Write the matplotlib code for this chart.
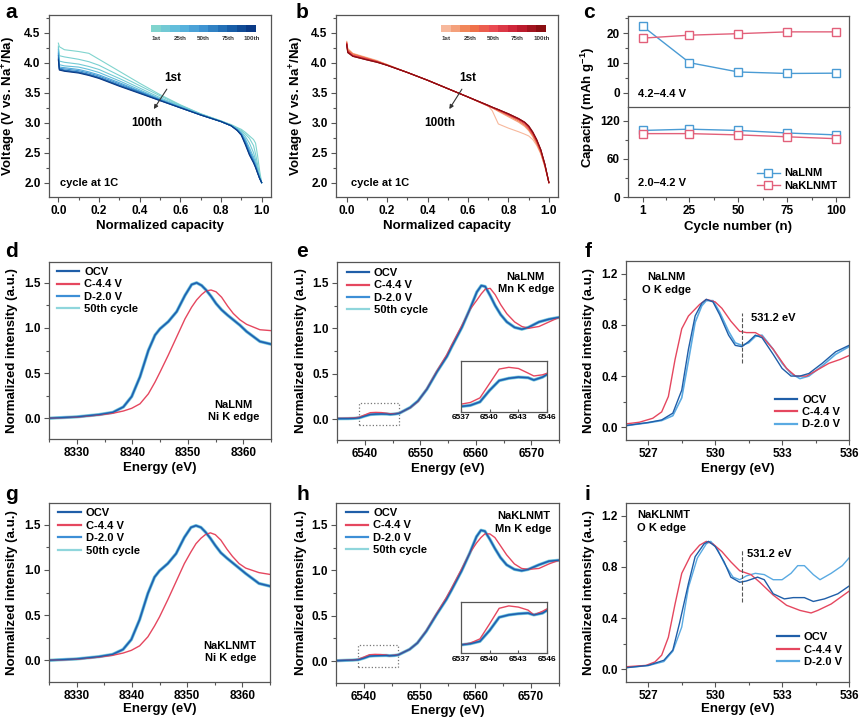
import numpy as np
import matplotlib
matplotlib.use("Agg")
import matplotlib.pyplot as plt
from matplotlib.colors import LinearSegmentedColormap
from matplotlib.patches import Rectangle
from matplotlib.lines import Line2D
from matplotlib.ticker import MultipleLocator, FormatStrFormatter

plt.rcParams['font.family'] = ['Liberation Sans', 'DejaVu Sans']
plt.rcParams['font.weight'] = 'bold'
plt.rcParams['axes.labelweight'] = 'bold'
plt.rcParams['mathtext.fontset'] = 'custom'
plt.rcParams['mathtext.rm'] = 'Liberation Sans:bold'
plt.rcParams['mathtext.bf'] = 'Liberation Sans:bold'
plt.rcParams['mathtext.default'] = 'bf'

# ---------------- data ----------------
# (a) NaLNM charge/discharge curves, selected cycles
cap_a = [0, .005, .03, .1, .15, .2, .3, .4, .5, .6, .7, .8, .85, .88, .9, .92, .94, .96, .97, .98, .99, 1.0]
cycles_a = [1, 5, 10, 20, 35, 50, 65, 80, 100]
volt_a_c1 = [4.33, 4.27, 4.22, 4.19, 4.16, 4.06, 3.86, 3.66, 3.47, 3.30, 3.15, 3.03, 2.97, 2.92, 2.89, 2.84, 2.78, 2.72, 2.66, 2.45, 2.20, 2.00]
volt_a_c5 = [4.28, 4.12, 4.10, 4.06, 4.02, 3.96, 3.79, 3.62, 3.45, 3.29, 3.15, 3.03, 2.96, 2.91, 2.87, 2.81, 2.74, 2.62, 2.48, 2.30, 2.13, 2.00]
volt_a_c10 = [4.25, 4.03, 4.01, 3.98, 3.94, 3.89, 3.74, 3.58, 3.42, 3.28, 3.14, 3.03, 2.96, 2.90, 2.85, 2.77, 2.66, 2.50, 2.38, 2.24, 2.10, 2.00]
volt_a_c20 = [4.22, 3.97, 3.95, 3.93, 3.89, 3.84, 3.70, 3.55, 3.40, 3.27, 3.14, 3.02, 2.95, 2.89, 2.83, 2.73, 2.58, 2.43, 2.33, 2.21, 2.09, 2.00]
volt_a_c35 = [4.18, 3.93, 3.92, 3.89, 3.85, 3.80, 3.67, 3.53, 3.39, 3.26, 3.14, 3.02, 2.95, 2.89, 2.82, 2.70, 2.54, 2.39, 2.30, 2.19, 2.08, 2.00]
volt_a_c50 = [4.15, 3.91, 3.90, 3.87, 3.83, 3.78, 3.65, 3.52, 3.38, 3.26, 3.13, 3.02, 2.95, 2.88, 2.81, 2.68, 2.51, 2.37, 2.28, 2.18, 2.08, 2.00]
volt_a_c65 = [4.12, 3.90, 3.88, 3.85, 3.81, 3.76, 3.63, 3.51, 3.38, 3.25, 3.13, 3.02, 2.95, 2.88, 2.80, 2.66, 2.49, 2.35, 2.27, 2.17, 2.07, 2.00]
volt_a_c80 = [4.08, 3.89, 3.87, 3.84, 3.80, 3.75, 3.62, 3.50, 3.37, 3.25, 3.13, 3.02, 2.95, 2.87, 2.80, 2.65, 2.47, 2.34, 2.26, 2.16, 2.07, 2.00]
volt_a_c100 = [4.05, 3.88, 3.86, 3.83, 3.79, 3.74, 3.61, 3.49, 3.37, 3.25, 3.13, 3.02, 2.95, 2.87, 2.79, 2.63, 2.46, 2.33, 2.25, 2.16, 2.07, 2.00]
volts_a = [volt_a_c1, volt_a_c5, volt_a_c10, volt_a_c20, volt_a_c35, volt_a_c50, volt_a_c65, volt_a_c80, volt_a_c100]

# (b) NaKLNMT charge/discharge curves
cap_b = [0, .005, .03, .1, .15, .2, .3, .4, .5, .6, .7, .72, .75, .8, .85, .88, .9, .92, .94, .96, .98, 1.0]
cycles_b = [1, 10, 25, 50, 75, 90, 100]
volt_b_c1 = [4.36, 4.24, 4.16, 4.09, 4.04, 3.97, 3.84, 3.71, 3.57, 3.43, 3.28, 3.20, 2.98, 2.91, 2.85, 2.81, 2.78, 2.72, 2.62, 2.48, 2.27, 2.00]
volt_b_c10 = [4.35, 4.23, 4.15, 4.08, 4.03, 3.97, 3.84, 3.71, 3.57, 3.43, 3.28, 3.25, 3.19, 3.10, 3.01, 2.94, 2.87, 2.77, 2.64, 2.49, 2.27, 2.00]
volt_b_c25 = [4.34, 4.22, 4.15, 4.08, 4.03, 3.97, 3.84, 3.71, 3.57, 3.43, 3.28, 3.25, 3.20, 3.12, 3.03, 2.96, 2.89, 2.79, 2.66, 2.50, 2.28, 2.00]
volt_b_c50 = [4.33, 4.20, 4.13, 4.07, 4.02, 3.96, 3.84, 3.71, 3.57, 3.43, 3.28, 3.25, 3.21, 3.13, 3.05, 2.98, 2.91, 2.81, 2.68, 2.52, 2.29, 2.00]
volt_b_c75 = [4.32, 4.19, 4.12, 4.06, 4.02, 3.96, 3.84, 3.71, 3.57, 3.43, 3.29, 3.26, 3.22, 3.14, 3.06, 3.00, 2.93, 2.83, 2.70, 2.54, 2.30, 2.00]
volt_b_c90 = [4.31, 4.18, 4.11, 4.05, 4.01, 3.96, 3.84, 3.71, 3.57, 3.43, 3.29, 3.26, 3.22, 3.15, 3.07, 3.01, 2.94, 2.84, 2.71, 2.55, 2.31, 2.00]
volt_b_c100 = [4.30, 4.17, 4.11, 4.05, 4.01, 3.96, 3.84, 3.71, 3.57, 3.43, 3.29, 3.26, 3.22, 3.15, 3.07, 3.01, 2.95, 2.85, 2.72, 2.55, 2.31, 2.00]
volts_b = [volt_b_c1, volt_b_c10, volt_b_c25, volt_b_c50, volt_b_c75, volt_b_c90, volt_b_c100]

# (c) capacity vs cycle
cycle_num = [1, 25, 50, 75, 100]
high_nalnm = [22.3, 10.1, 7.0, 6.5, 6.6]
high_naklnmt = [18.3, 19.3, 19.8, 20.4, 20.4]
low_nalnm = [105, 107, 105, 101, 98]
low_naklnmt = [100, 100, 98, 95, 92]

# (d, g) Ni K edge
e_ni = [8325, 8330, 8334, 8336.5, 8338.4, 8339.9, 8341.4, 8342.9, 8344.1, 8345, 8346.5, 8348, 8349.5,
        8350.7, 8351.6, 8352.5, 8353.3, 8354.2, 8355.1, 8356.1, 8357.2, 8358.2, 8359.4, 8360.6, 8363, 8365]
ni_d_ocv = [0.0, 0.015, 0.04, 0.065, 0.125, 0.24, 0.46, 0.75, 0.92, 0.99, 1.07, 1.18, 1.36,
            1.48, 1.50, 1.47, 1.42, 1.35, 1.27, 1.20, 1.14, 1.09, 1.03, 0.96, 0.85, 0.82]
ni_d_chg = [0.0, 0.012, 0.035, 0.055, 0.08, 0.11, 0.16, 0.27, 0.40, 0.51, 0.70, 0.90, 1.10,
            1.23, 1.31, 1.37, 1.41, 1.42, 1.40, 1.34, 1.24, 1.16, 1.09, 1.04, 0.98, 0.97]
ni_g_ocv = [0.0, 0.015, 0.04, 0.065, 0.12, 0.23, 0.45, 0.74, 0.92, 0.99, 1.07, 1.18, 1.36,
            1.47, 1.49, 1.47, 1.42, 1.35, 1.27, 1.19, 1.13, 1.08, 1.02, 0.96, 0.85, 0.82]
ni_g_chg = [0.0, 0.012, 0.035, 0.055, 0.08, 0.11, 0.16, 0.26, 0.38, 0.48, 0.67, 0.87, 1.07,
            1.20, 1.29, 1.35, 1.39, 1.41, 1.39, 1.33, 1.23, 1.15, 1.07, 1.02, 0.97, 0.95]

# (e, h) Mn K edge
e_mn = [6535, 6537, 6538, 6539, 6540, 6541, 6542, 6543, 6544, 6544.6, 6545.5, 6546.2, 6548.2, 6549.6,
        6551.2, 6553, 6554.8, 6555.7, 6557.5, 6559, 6560.2, 6561, 6561.7, 6562.6, 6563.5, 6564.5,
        6565.6, 6567, 6568.3, 6569.5, 6571.4, 6573.2, 6575]
mn_e_ocv = [0.005, 0.006, 0.008, 0.014, 0.034, 0.051, 0.055, 0.057, 0.056, 0.052, 0.057, 0.064, 0.128, 0.20,
            0.33, 0.52, 0.69, 0.80, 1.01, 1.22, 1.40, 1.47, 1.46, 1.36, 1.25, 1.15,
            1.07, 1.01, 0.99, 1.01, 1.07, 1.10, 1.12]
mn_e_chg = [0.008, 0.010, 0.013, 0.021, 0.046, 0.071, 0.074, 0.072, 0.064, 0.059, 0.061, 0.065, 0.125, 0.195,
            0.335, 0.53, 0.71, 0.82, 1.03, 1.21, 1.31, 1.38, 1.43, 1.44, 1.37, 1.26,
            1.16, 1.07, 1.02, 1.00, 1.02, 1.07, 1.12]
mn_h_ocv = [0.005, 0.010, 0.012, 0.016, 0.034, 0.056, 0.060, 0.062, 0.063, 0.060, 0.063, 0.070, 0.13, 0.20,
            0.33, 0.51, 0.68, 0.78, 0.99, 1.19, 1.37, 1.44, 1.43, 1.34, 1.24, 1.14,
            1.06, 1.01, 0.995, 1.01, 1.06, 1.10, 1.11]
mn_h_chg = [0.006, 0.010, 0.013, 0.020, 0.045, 0.071, 0.075, 0.073, 0.068, 0.060, 0.066, 0.072, 0.13, 0.20,
            0.335, 0.52, 0.70, 0.80, 1.01, 1.19, 1.30, 1.36, 1.40, 1.40, 1.36, 1.27,
            1.17, 1.07, 1.02, 1.01, 1.02, 1.07, 1.11]

# (f) NaLNM O K edge
e_f_ocv = [526.0, 527.0, 527.6, 528.1, 528.5, 528.8, 529.1, 529.4, 529.6, 529.9, 530.2, 530.6, 530.9,
           531.2, 531.5, 531.8, 532.1, 532.6, 533.0, 533.4, 533.8, 534.2, 534.8, 535.4, 536.0]
o_f_ocv = [0.013, 0.037, 0.057, 0.11, 0.29, 0.61, 0.87, 0.97, 1.0, 0.98, 0.88, 0.72, 0.64,
           0.63, 0.67, 0.72, 0.70, 0.57, 0.46, 0.40, 0.40, 0.42, 0.50, 0.59, 0.64]
o_f_dis = [0.012, 0.035, 0.052, 0.09, 0.23, 0.52, 0.82, 0.95, 0.99, 0.99, 0.90, 0.75, 0.66,
           0.64, 0.66, 0.71, 0.72, 0.61, 0.50, 0.42, 0.38, 0.40, 0.48, 0.57, 0.63]
e_f_chg = [526.0, 526.6, 527.2, 527.6, 527.9, 528.2, 528.5, 528.8, 529.3, 529.6, 530.0, 530.3, 530.7,
           531.1, 531.4, 531.8, 532.1, 532.6, 533.2, 533.6, 534.1, 534.5, 535.1, 535.6, 536.0]
o_f_chg = [0.026, 0.039, 0.07, 0.12, 0.24, 0.53, 0.77, 0.87, 0.96, 1.0, 0.98, 0.93, 0.83,
           0.75, 0.74, 0.74, 0.71, 0.61, 0.46, 0.40, 0.40, 0.44, 0.50, 0.53, 0.56]

# (i) NaKLNMT O K edge
e_i_ocv = [525.9, 527.0, 527.7, 528.1, 528.4, 528.8, 529.1, 529.5, 529.7, 530.0, 530.4, 530.7,
           531.1, 531.4, 531.9, 532.2, 532.6, 533.1, 533.5, 534.0, 534.4, 534.9, 535.5, 536.0]
o_i_ocv = [0.01, 0.03, 0.07, 0.15, 0.36, 0.67, 0.88, 0.98, 1.0, 0.96, 0.84, 0.72,
           0.68, 0.69, 0.72, 0.70, 0.59, 0.55, 0.56, 0.56, 0.53, 0.55, 0.59, 0.65]
e_i_dis = [525.9, 527.0, 527.7, 528.1, 528.5, 528.8, 529.2, 529.6, 529.8, 530.1, 530.4, 530.8, 531.1,
           531.4, 531.8, 532.2, 532.6, 533.0, 533.4, 533.7, 534.0, 534.4, 534.7, 535.2, 535.7, 536.0]
o_i_dis = [0.01, 0.028, 0.06, 0.14, 0.33, 0.64, 0.87, 0.98, 1.0, 0.94, 0.83, 0.72, 0.70,
           0.73, 0.75, 0.74, 0.70, 0.70, 0.75, 0.81, 0.81, 0.74, 0.70, 0.75, 0.81, 0.87]
e_i_chg = [525.9, 526.9, 527.3, 527.6, 527.9, 528.2, 528.5, 528.9, 529.3, 529.6, 529.9, 530.3,
           530.7, 531.1, 531.6, 532.0, 532.6, 533.2, 533.8, 534.3, 534.6, 535.2, 536.0]
o_i_chg = [0.018, 0.03, 0.057, 0.11, 0.25, 0.51, 0.75, 0.89, 0.97, 1.0, 0.98, 0.92,
           0.84, 0.77, 0.74, 0.68, 0.58, 0.50, 0.46, 0.44, 0.46, 0.51, 0.61]

cbar_labels = ['1st', '25th', '50th', '75th', '100th']

# ---------------- style ----------------
W, H = 860, 722
C_OCV = '#1f5ea8'
C_CHG = '#e5475f'
C_DIS = '#3d8fd6'
C_50 = '#8fd6dc'
C_DIS_O = '#5aaae2'
SPINE = '#555555'

cmap_a = LinearSegmentedColormap.from_list('blues', ['#80d4ce', '#5cb8de', '#3f94d2', '#1c67b0', '#0a3a86'])
cmap_b = LinearSegmentedColormap.from_list('reds', ['#f7b89c', '#f07a48', '#ea4a52', '#c81e34', '#8a0e12'])


def box(l, t, r, b):
    return [l / W, 1 - b / H, (r - l) / W, (b - t) / H]


def style(ax, xlim, ylim, ymaj, ymin, xmaj=None, xmin=None, yfmt='%.1f'):
    ax.set_xlim(xlim)
    ax.set_ylim(ylim)
    if xmaj is not None:
        ax.xaxis.set_major_locator(MultipleLocator(xmaj))
        ax.xaxis.set_minor_locator(MultipleLocator(xmin))
    ax.yaxis.set_major_locator(MultipleLocator(ymaj))
    ax.yaxis.set_minor_locator(MultipleLocator(ymin))
    ax.yaxis.set_major_formatter(FormatStrFormatter(yfmt))
    ax.tick_params(which='both', direction='out', color=SPINE, width=0.8, labelsize=8.5, pad=2.5)
    ax.tick_params(which='major', length=3.5)
    ax.tick_params(which='minor', length=2)
    for s in ax.spines.values():
        s.set_color(SPINE)
        s.set_linewidth(0.9)


def letter(x, y, s):
    fig.text(x / W, 1 - y / H, s, fontsize=15, fontweight='bold', va='baseline')


fig = plt.figure(figsize=(8.6, 7.22), dpi=100)

# ---------------- (a) ----------------
ax = fig.add_axes(box(49, 15, 271, 197))
for cyc, v in zip(cycles_a, volts_a):
    ax.plot(cap_a, v, color=cmap_a((cyc - 1) / 99), lw=0.8)
style(ax, (-0.046, 1.046), (1.76, 4.8), 0.5, 0.25, 0.2, 0.1)
ax.xaxis.set_major_formatter(FormatStrFormatter('%.1f'))
ax.set_xlabel('Normalized capacity', fontsize=9.5)
ax.set_ylabel('Voltage (V vs. Na$^{+}$/Na)', fontsize=9.5)
ax.xaxis.set_label_coords(0.5, -0.125)
ax.yaxis.set_label_coords(-0.139, 0.5)
ax.text(0.01, 2.0, 'cycle at 1C', fontsize=8, va='center')
ax.text(0.565, 3.74, '1st', fontsize=8.5, ha='center', va='center')
ax.text(0.435, 3.0, '100th', fontsize=8.5, ha='center', va='center')
ax.annotate('', xy=(0.462, 3.19), xytext=(0.541, 3.6),
            arrowprops=dict(arrowstyle='-|>', color='#333333', lw=0.8, mutation_scale=6))
letter(5, 18, 'a')

cax = fig.add_axes(box(151, 25, 256, 32))
cax.pcolormesh(np.arange(12), [0, 1], [np.arange(11)], cmap=cmap_a)
cax.set_axis_off()
for lab, px in zip(cbar_labels, [156, 180, 203, 228, 252]):
    fig.text(px / W, 1 - 39 / H, lab, fontsize=4.5, ha='center', va='center', color='#333333')

# ---------------- (b) ----------------
ax = fig.add_axes(box(336, 15, 558, 197))
for cyc, v in zip(cycles_b, volts_b):
    ax.plot(cap_b, v, color=cmap_b((cyc - 1) / 99), lw=0.8)
style(ax, (-0.053, 1.045), (1.76, 4.8), 0.5, 0.25, 0.2, 0.1)
ax.xaxis.set_major_formatter(FormatStrFormatter('%.1f'))
ax.set_xlabel('Normalized capacity', fontsize=9.5)
ax.set_ylabel('Voltage (V vs. Na$^{+}$/Na)', fontsize=9.5)
ax.xaxis.set_label_coords(0.5, -0.125)
ax.yaxis.set_label_coords(-0.133, 0.5)
ax.text(0.02, 2.0, 'cycle at 1C', fontsize=8, va='center')
ax.text(0.6, 3.74, '1st', fontsize=8.5, ha='center', va='center')
ax.text(0.46, 3.0, '100th', fontsize=8.5, ha='center', va='center')
ax.annotate('', xy=(0.5, 3.19), xytext=(0.577, 3.6),
            arrowprops=dict(arrowstyle='-|>', color='#333333', lw=0.8, mutation_scale=6))
letter(296, 18, 'b')

cax = fig.add_axes(box(441, 25, 546, 32))
cax.pcolormesh(np.arange(12), [0, 1], [np.arange(11)], cmap=cmap_b)
cax.set_axis_off()
for lab, px in zip(cbar_labels, [446, 470, 493, 517, 542]):
    fig.text(px / W, 1 - 39 / H, lab, fontsize=4.5, ha='center', va='center', color='#333333')

# ---------------- (c) ----------------
C_N = '#4a9bd4'
C_K = '#e2607a'
mk = dict(marker='s', ms=6, mfc='white', mew=1.0, lw=1.0)
axt = fig.add_axes(box(628, 16, 849, 107))
axb = fig.add_axes(box(628, 107, 849, 197))
axt.plot(cycle_num, high_nalnm, color=C_N, mec=C_N, **mk)
axt.plot(cycle_num, high_naklnmt, color=C_K, mec=C_K, **mk)
axb.plot(cycle_num, low_nalnm, color=C_N, mec=C_N, label='NaLNM', **mk)
axb.plot(cycle_num, low_naklnmt, color=C_K, mec=C_K, label='NaKLNMT', **mk)
style(axt, (-6.5, 106.7), (-4.7, 25.7), 10, 5, yfmt='%d')
style(axb, (-6.5, 106.7), (0, 142), 60, 30, yfmt='%d')
for a_ in (axt, axb):
    a_.set_xticks(cycle_num)
    a_.set_xticks([13, 37.5, 62.5, 87.5], minor=True)
axt.tick_params(axis='x', which='both', bottom=False, labelbottom=False)
axt.spines['bottom'].set_visible(False)
axb.set_xlabel('Cycle number (n)', fontsize=9.5)
axb.xaxis.set_label_coords(0.5, -0.267)
fig.text(588 / W, 1 - 107 / H, 'Capacity (mAh g$^{-1}$)', fontsize=9.5, rotation=90,
         ha='center', va='center', fontweight='bold')
axt.text(0.045, 0.143, '4.2–4.4 V', transform=axt.transAxes, fontsize=8, va='center')
axb.text(0.045, 0.159, '2.0–4.2 V', transform=axb.transAxes, fontsize=8, va='center')
axb.legend(loc='lower left', bbox_to_anchor=(0.585, 0.07), frameon=False, fontsize=8,
           handlelength=2.0, handletextpad=0.4, labelspacing=0.2, borderpad=0, borderaxespad=0)
letter(583, 18, 'c')


# ---------------- XAS helpers ----------------
def xas_legend(ax, with50, loc, anchor, dis_color=C_DIS):
    hs = [Line2D([], [], color=C_OCV, lw=1.6), Line2D([], [], color=C_CHG, lw=1.6),
          Line2D([], [], color=dis_color, lw=1.6)]
    labs = ['OCV', 'C-4.4 V', 'D-2.0 V']
    if with50:
        hs.append(Line2D([], [], color=C_50, lw=1.6))
        labs.append('50th cycle')
    ax.legend(hs, labs, loc=loc, bbox_to_anchor=anchor, frameon=False, fontsize=8,
              handlelength=2.0, handletextpad=0.45, labelspacing=0.22, borderpad=0, borderaxespad=0)


def plot_k(ax, e, ocv, chg):
    ax.plot(e, ocv, color=C_50, lw=2.4)
    ax.plot(e, ocv, color=C_DIS, lw=1.6)
    ax.plot(e, chg, color=C_CHG, lw=1.0)
    ax.plot(e, ocv, color=C_OCV, lw=0.9)


def mn_inset(rect, e, ocv, chg, ylim):
    ins = fig.add_axes(box(*rect))
    plot_k(ins, e, ocv, chg)
    ins.set_xlim(6537, 6546)
    ins.set_ylim(ylim)
    ins.set_xticks([6537, 6540, 6543, 6546])
    ins.set_yticks([])
    ins.tick_params(axis='x', direction='in', length=2, labelsize=6, pad=2, color=SPINE)
    for s in ins.spines.values():
        s.set_color(SPINE)
        s.set_linewidth(0.9)


# ---------------- (d) ----------------
ax = fig.add_axes(box(49, 262, 271, 439))
plot_k(ax, e_ni, ni_d_ocv, ni_d_chg)
style(ax, (8325, 8365), (-0.23, 1.73), 0.5, 0.25, 10, 5)
ax.set_xlabel('Energy (eV)', fontsize=9.5)
ax.set_ylabel('Normalized intensity (a.u.)', fontsize=9.5)
ax.xaxis.set_label_coords(0.5, -0.129)
ax.yaxis.set_label_coords(-0.139, 0.5)
ax.text(8358.2, 0.08, 'NaLNM\nNi K edge', fontsize=8, ha='center', va='center', linespacing=1.3)
xas_legend(ax, True, 'upper left', (0.036, 0.972))
letter(5, 257, 'd')

# ---------------- (e) ----------------
ax = fig.add_axes(box(337, 262, 559, 440))
plot_k(ax, e_mn, mn_e_ocv, mn_e_chg)
style(ax, (6535, 6575), (-0.23, 1.73), 0.5, 0.25, 10, 5)
ax.set_xlabel('Energy (eV)', fontsize=9.5)
ax.set_ylabel('Normalized intensity (a.u.)', fontsize=9.5)
ax.xaxis.set_label_coords(0.5, -0.129)
ax.yaxis.set_label_coords(-0.137, 0.5)
ax.text(6569, 1.50, 'NaLNM\nMn K edge', fontsize=8, ha='center', va='center', linespacing=1.3)
ax.add_patch(Rectangle((6539, -0.06), 7.2, 0.235, fill=False, ls=':', lw=0.9, ec='#777777'))
xas_legend(ax, True, 'upper left', (0.044, 0.966))
mn_inset((460.7, 361, 547.3, 411.7), e_mn, mn_e_ocv, mn_e_chg, (-0.003, 0.085))
letter(296, 257, 'e')

# ---------------- (f) ----------------
ax = fig.add_axes(box(626, 261, 849, 440))
ax.plot(e_f_ocv, o_f_dis, color=C_DIS_O, lw=1.2)
ax.plot(e_f_chg, o_f_chg, color=C_CHG, lw=1.0)
ax.plot(e_f_ocv, o_f_ocv, color=C_OCV, lw=1.0)
style(ax, (526, 536), (-0.1, 1.3), 0.4, 0.2)
ax.set_xticks([527, 530, 533, 536])
ax.set_xticks([528.5, 531.5, 534.5], minor=True)
ax.set_xlabel('Energy (eV)', fontsize=9.5)
ax.set_ylabel('Normalized intensity (a.u.)', fontsize=9.5)
ax.xaxis.set_label_coords(0.5, -0.131)
ax.yaxis.set_label_coords(-0.14, 0.5)
ax.text(527.8, 1.125, 'NaLNM\nO K edge', fontsize=8, ha='center', va='center', linespacing=1.35)
ax.plot([531.2, 531.2], [0.5, 0.89], ls='--', color='#555555', lw=0.8)
ax.text(531.62, 0.853, '531.2 eV', fontsize=8, va='center')
xas_legend(ax, False, 'lower left', (0.668, 0.059), dis_color=C_DIS_O)
letter(585, 257, 'f')

# ---------------- (g) ----------------
ax = fig.add_axes(box(49, 503, 270, 682))
plot_k(ax, e_ni, ni_g_ocv, ni_g_chg)
style(ax, (8325, 8365), (-0.24, 1.74), 0.5, 0.25, 10, 5)
ax.set_xlabel('Energy (eV)', fontsize=9.5)
ax.set_ylabel('Normalized intensity (a.u.)', fontsize=9.5)
ax.xaxis.set_label_coords(0.5, -0.12)
ax.yaxis.set_label_coords(-0.139, 0.5)
ax.text(8357.8, 0.09, 'NaKLNMT\nNi K edge', fontsize=8, ha='center', va='center', linespacing=1.3)
xas_legend(ax, True, 'upper left', (0.042, 0.97))
letter(5, 500, 'g')

# ---------------- (h) ----------------
ax = fig.add_axes(box(336, 503, 559, 683))
plot_k(ax, e_mn, mn_h_ocv, mn_h_chg)
style(ax, (6535, 6575), (-0.24, 1.74), 0.5, 0.25, 10, 5)
ax.set_xlabel('Energy (eV)', fontsize=9.5)
ax.set_ylabel('Normalized intensity (a.u.)', fontsize=9.5)
ax.xaxis.set_label_coords(0.5, -0.12)
ax.yaxis.set_label_coords(-0.132, 0.5)
ax.text(6568.6, 1.525, 'NaKLNMT\nMn K edge', fontsize=8, ha='center', va='center', linespacing=1.3)
ax.add_patch(Rectangle((6539, -0.065), 7.2, 0.245, fill=False, ls=':', lw=0.9, ec='#777777'))
xas_legend(ax, True, 'upper left', (0.045, 0.972))
mn_inset((460.7, 601.7, 547.3, 653.3), e_mn, mn_h_ocv, mn_h_chg, (-0.004, 0.082))
letter(296, 500, 'h')

# ---------------- (i) ----------------
ax = fig.add_axes(box(626, 503, 849, 682))
ax.plot(e_i_dis, o_i_dis, color=C_DIS_O, lw=1.0)
ax.plot(e_i_chg, o_i_chg, color=C_CHG, lw=1.0)
ax.plot(e_i_ocv, o_i_ocv, color=C_OCV, lw=1.0)
style(ax, (526, 536), (-0.1, 1.3), 0.4, 0.2)
ax.set_xticks([527, 530, 533, 536])
ax.set_xticks([528.5, 531.5, 534.5], minor=True)
ax.set_xlabel('Energy (eV)', fontsize=9.5)
ax.set_ylabel('Normalized intensity (a.u.)', fontsize=9.5)
ax.xaxis.set_label_coords(0.5, -0.12)
ax.yaxis.set_label_coords(-0.14, 0.5)
ax.text(526.5, 1.153, 'NaKLNMT\nO K edge', fontsize=8, ha='left', va='center', linespacing=1.35)
ax.plot([531.2, 531.2], [0.527, 0.93], ls='--', color='#555555', lw=0.8)
ax.text(531.42, 0.9, '531.2 eV', fontsize=8, va='center')
xas_legend(ax, False, 'lower left', (0.676, 0.084), dis_color=C_DIS_O)
letter(585, 500, 'i')

fig.savefig('out.png', dpi=100)
